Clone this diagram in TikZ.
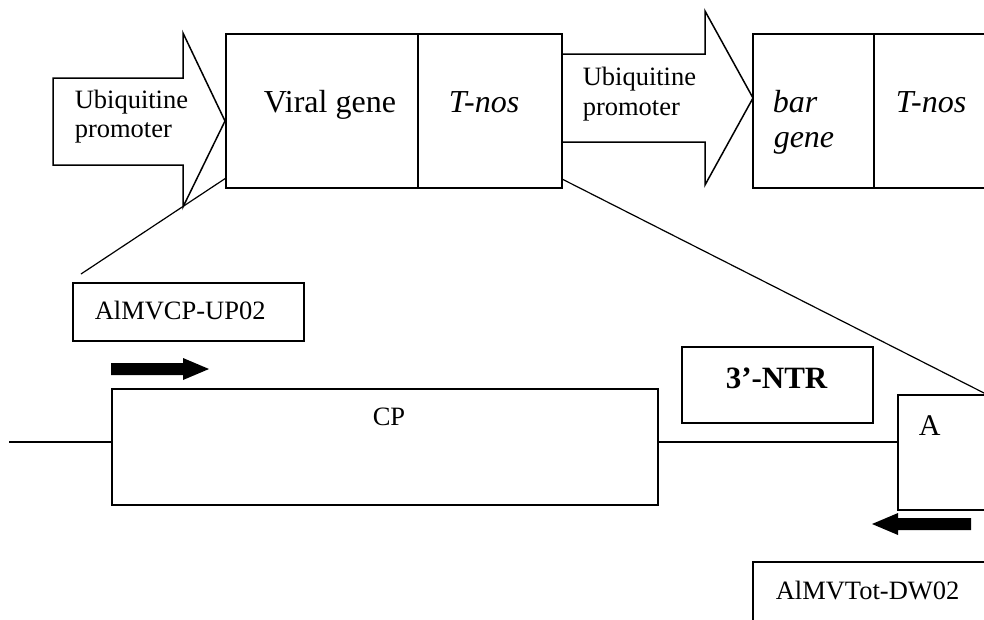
\documentclass[tikz,border=0pt]{standalone}
\usepackage{fontspec}
\setmainfont{Liberation Serif}
\begin{document}
\begin{tikzpicture}[x=1pt,y=-1pt, line width=1.5pt, line join=miter,
  box/.style={draw, rectangle, inner sep=0pt, outer sep=0pt, anchor=north west},
  txt/.style={anchor=base west, inner sep=0pt, font=\fontsize{26.5}{30}\selectfont},
  big/.style={anchor=base west, inner sep=0pt, font=\fontsize{32}{36}\selectfont},
  primer/.style={fill=black, draw=none}]
\useasboundingbox (0,0) rectangle (984,619);
\clip (0,0) rectangle (984,619);

% block arrows (promoters)
\draw (53,78) -- (183,78) -- (183,33) -- (225,121) -- (183,207) -- (183,165) -- (53,165) -- cycle;
\draw (562,54) -- (705,54) -- (705,11) -- (753,98) -- (705,185) -- (705,142) -- (562,142) -- cycle;

% construct boxes
\node[box, minimum width=192pt, minimum height=154pt] (viral) at (226,34) {};
\node[box, minimum width=144pt, minimum height=154pt] (tnosA) at (418,34) {};
\node[box, minimum width=121pt, minimum height=154pt] (bar) at (753,34) {};
\node[box, minimum width=130pt, minimum height=154pt] (tnosB) at (874,34) {};

% texts in construct
\node[txt] (ub1) at (74,108) {Ubiquitine};
\node[txt] (pr1) at (74,137) {promoter};
\node[txt] (ub2) at (582,85) {Ubiquitine};
\node[txt] (pr2) at (582,115) {promoter};
\node[big] (vg) at (263,112) {Viral gene};
\node[big] (tn1) at (448,112) {\itshape T-nos};
\node[big] (bg1) at (772,112) {\itshape bar};
\node[big] (bg2) at (773,147) {\itshape gene};
\node[big] (tn2) at (895,112) {\itshape T-nos};

% lower map boxes
\node[box, minimum width=231pt, minimum height=58pt] (up) at (73,283) {};
\node[txt] (uptxt) at (94,319) {AlMVCP-UP02};
\node[box, minimum width=546pt, minimum height=116pt] (cp) at (112,389) {};
\node[txt] (cptxt) at (372,425) {CP};
\node[box, minimum width=191pt, minimum height=76pt] (ntr) at (682,347) {};
\node[anchor=base west, inner sep=0pt, font=\fontsize{31}{36}\selectfont\bfseries] (ntrtxt) at (725,388) {3’-NTR};
\node[box, minimum width=100pt, minimum height=115pt] (abox) at (898,395) {};
\node[anchor=base west, inner sep=0pt, font=\fontsize{30}{34}\selectfont] (atxt) at (918,435) {A};
\node[box, minimum width=240pt, minimum height=80pt] (dw) at (753,562) {};
\node[txt] (dwtxt) at (775,599) {AlMVTot-DW02};

% zoom lines
\coordinate (zl1) at (226,178);
\coordinate (zl1e) at (81,274);
\draw[line width=1.2pt] (zl1) -- (zl1e);
\coordinate (zr1) at (562,179);
\coordinate (zr1e) at (984,393);
\draw[line width=1.2pt] (zr1) -- (zr1e);

% genome line
\coordinate (lead) at (9,442);
\draw (lead) -- (lead -| cp.west);
\draw (cp.east |- lead) -- (abox.west |- lead);

% primers
\fill[primer] (111,363) -- (183,363) -- (183,358) -- (209,369) -- (183,380) -- (183,375) -- (111,375) -- cycle;
\fill[primer] (971,518) -- (898,518) -- (898,513) -- (872,524) -- (898,535) -- (898,530) -- (971,530) -- cycle;
\end{tikzpicture}
\end{document}
